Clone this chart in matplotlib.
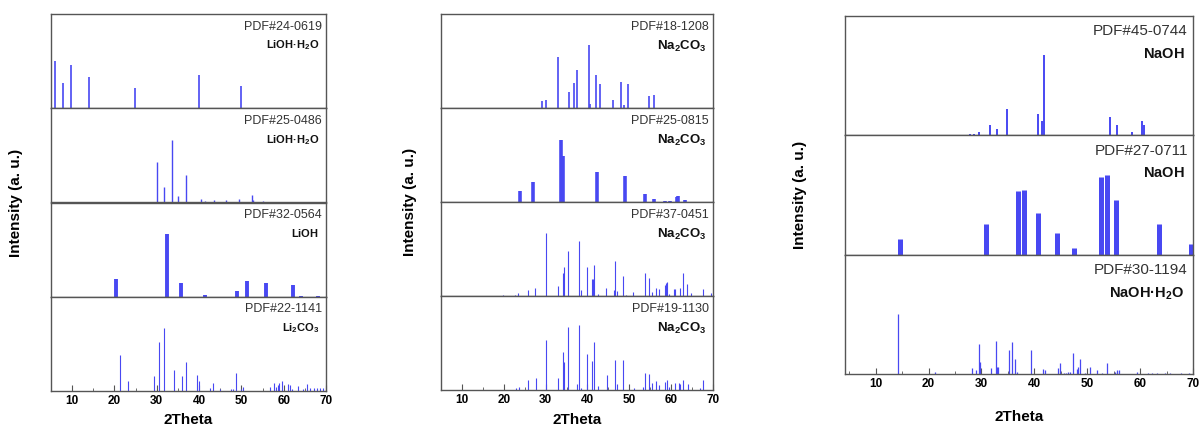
import numpy as np
import matplotlib
matplotlib.use("Agg")
import matplotlib.pyplot as plt

plt.rcParams['font.family'] = ['Liberation Sans', 'DejaVu Sans']
plt.rcParams['mathtext.fontset'] = 'custom'
plt.rcParams['mathtext.rm'] = 'Liberation Sans'
plt.rcParams['mathtext.bf'] = 'Liberation Sans:bold'

BLUE = '#4848f2'

# ---- datos de referencia (2Theta, intensidad relativa) ----
# Panel 1
pdf_24_0619_pos = [5.9, 7.9, 9.8, 13.9, 24.8, 39.9, 49.9]
pdf_24_0619_int = [0.50, 0.27, 0.46, 0.33, 0.21, 0.35, 0.24]

pdf_25_0486_pos = [21.4, 25.6, 30.0, 31.8, 33.6, 34.9, 36.8, 40.5, 41.5, 43.6, 46.3,
                   49.5, 51.2, 52.4, 52.8, 55.2, 57.5, 59.3, 61.9, 63.3, 64.3, 65.4, 68.2]
pdf_25_0486_int = [0.01, 0.01, 0.43, 0.16, 0.66, 0.07, 0.29, 0.04, 0.02, 0.03, 0.03,
                   0.035, 0.01, 0.08, 0.03, 0.015, 0.01, 0.01, 0.01, 0.01, 0.01, 0.01, 0.01]

pdf_32_0564_pos = [20.3, 32.4, 35.7, 41.5, 49.0, 51.3, 55.9, 62.1, 64.1, 68.2]
pdf_32_0564_int = [0.185, 0.67, 0.15, 0.02, 0.065, 0.17, 0.15, 0.12, 0.01, 0.01]

pdf_22_1141_pos = [21.3, 23.3, 29.3, 30.5, 31.6, 34.0, 36.0, 36.8, 39.4, 39.9, 42.5,
                   43.4, 45.0, 47.5, 47.9, 48.7, 50.0, 50.3, 56.8, 57.6, 58.2, 58.6,
                   59.0, 59.7, 61.1, 61.4, 62.0, 63.3, 64.6, 65.4, 66.3, 67.1, 67.8,
                   68.6, 69.4]
pdf_22_1141_int = [0.38, 0.105, 0.155, 0.52, 0.67, 0.22, 0.155, 0.31, 0.17, 0.105, 0.03,
                   0.08, 0.02, 0.02, 0.02, 0.19, 0.02, 0.04, 0.04, 0.09, 0.04, 0.06,
                   0.09, 0.11, 0.07, 0.06, 0.02, 0.05, 0.02, 0.07, 0.03, 0.03, 0.03,
                   0.03, 0.03]

# Panel 2
pdf_18_1208_pos = [29.05, 30.2, 32.9, 35.5, 36.7, 37.5, 40.3, 40.6, 42.0, 43.0, 46.2,
                   48.1, 48.7, 49.7, 54.7, 55.8]
pdf_18_1208_int = [0.07, 0.085, 0.54, 0.17, 0.27, 0.40, 0.67, 0.04, 0.35, 0.26, 0.09,
                   0.28, 0.03, 0.26, 0.125, 0.135]

pdf_25_0815_pos = [23.8, 27.0, 33.7, 34.2, 42.2, 49.0, 53.8, 55.8, 58.6, 59.8, 61.3,
                   61.7, 63.4, 67.4]
pdf_25_0815_int = [0.12, 0.21, 0.66, 0.49, 0.32, 0.28, 0.08, 0.035, 0.015, 0.01, 0.05,
                   0.065, 0.025, 0.005]

pdf_37_0451_pos = [14.7, 19.7, 22.6, 23.4, 25.9, 27.5, 30.0, 33.0, 34.1, 34.4, 35.3,
                   38.0, 38.5, 39.9, 41.0, 41.3, 41.5, 42.6, 44.5, 46.4, 46.6, 47.1,
                   48.4, 49.3, 50.9, 53.75, 54.6, 55.4, 56.4, 57.1, 58.45, 58.8, 59.1,
                   59.5, 60.6, 60.85, 62.0, 62.8, 63.9, 64.85, 67.7, 69.6]
pdf_37_0451_int = [0.005, 0.01, 0.01, 0.03, 0.06, 0.09, 0.67, 0.11, 0.24, 0.31, 0.48,
                   0.59, 0.06, 0.31, 0.18, 0.18, 0.33, 0.02, 0.09, 0.06, 0.37, 0.05,
                   0.21, 0.015, 0.04, 0.24, 0.19, 0.04, 0.08, 0.07, 0.12, 0.14, 0.15,
                   0.02, 0.07, 0.07, 0.08, 0.24, 0.13, 0.03, 0.07, 0.03]

pdf_19_1130_pos = [23.0, 23.6, 25.9, 27.6, 30.0, 33.0, 34.1, 34.4, 35.3, 37.4, 38.0,
                   38.5, 39.9, 41.2, 41.6, 42.6, 44.6, 46.55, 47.1, 48.4, 51.2, 53.35,
                   53.65, 54.6, 55.4, 56.4, 57.1, 58.45, 59.1, 59.5, 60.85, 61.9, 62.2,
                   62.9, 64.0, 67.0, 67.7]
pdf_19_1130_int = [0.02, 0.03, 0.11, 0.13, 0.53, 0.13, 0.40, 0.30, 0.67, 0.06, 0.69,
                   0.02, 0.38, 0.31, 0.51, 0.04, 0.16, 0.32, 0.06, 0.32, 0.02, 0.03,
                   0.18, 0.175, 0.07, 0.10, 0.05, 0.08, 0.11, 0.03, 0.07, 0.07, 0.06,
                   0.11, 0.06, 0.02, 0.11]

# Panel 3
pdf_45_0744_pos = [27.8, 28.6, 29.5, 31.6, 33.0, 34.9, 40.7, 41.4, 41.9, 54.3, 55.6,
                   58.4, 60.3, 60.7]
pdf_45_0744_int = [0.01, 0.01, 0.03, 0.09, 0.056, 0.22, 0.18, 0.12, 0.67, 0.15, 0.087,
                   0.03, 0.12, 0.09]

pdf_27_0711_pos = [14.55, 30.8, 37.0, 38.0, 40.7, 44.2, 47.5, 52.65, 53.7, 55.5, 63.6, 69.6]
pdf_27_0711_int = [0.13, 0.26, 0.53, 0.54, 0.35, 0.185, 0.06, 0.655, 0.67, 0.46, 0.26, 0.09]

pdf_30_1194_pos = [14.2, 21.2, 28.2, 28.9, 29.55, 29.8, 31.8, 32.7, 33.0, 33.2, 35.3,
                   35.7, 36.25, 36.7, 39.3, 41.7, 42.1, 44.5, 44.9, 45.6, 45.97, 46.4,
                   46.7, 47.4, 48.0, 48.3, 48.6, 49.6, 50.5, 51.8, 52.8, 53.7, 55.2,
                   55.6, 56.0, 59.35, 61.4, 62.2, 63.1, 64.7, 65.7, 67.7, 69.2]
pdf_30_1194_int = [0.50, 0.02, 0.05, 0.03, 0.255, 0.10, 0.05, 0.275, 0.06, 0.06, 0.20,
                   0.27, 0.125, 0.02, 0.20, 0.04, 0.035, 0.05, 0.095, 0.01, 0.01, 0.02,
                   0.02, 0.18, 0.04, 0.06, 0.125, 0.01, 0.06, 0.03, 0.01, 0.095, 0.02,
                   0.03, 0.03, 0.02, 0.01, 0.01, 0.005, 0.01, 0.005, 0.005, 0.01]

# (codigo, formula, posiciones, intensidades, ancho de linea)
panel1 = [
    ("PDF#24-0619", r"$\mathbf{LiOH·H_2O}$", pdf_24_0619_pos, pdf_24_0619_int, 1.2),
    ("PDF#25-0486", r"$\mathbf{LiOH·H_2O}$", pdf_25_0486_pos, pdf_25_0486_int, 1.0),
    ("PDF#32-0564", r"$\mathbf{LiOH}$", pdf_32_0564_pos, pdf_32_0564_int, 2.8),
    ("PDF#22-1141", r"$\mathbf{Li_2CO_3}$", pdf_22_1141_pos, pdf_22_1141_int, 0.8),
]
panel2 = [
    ("PDF#18-1208", r"$\mathbf{Na_2CO_3}$", pdf_18_1208_pos, pdf_18_1208_int, 1.2),
    ("PDF#25-0815", r"$\mathbf{Na_2CO_3}$", pdf_25_0815_pos, pdf_25_0815_int, 2.6),
    ("PDF#37-0451", r"$\mathbf{Na_2CO_3}$", pdf_37_0451_pos, pdf_37_0451_int, 0.8),
    ("PDF#19-1130", r"$\mathbf{Na_2CO_3}$", pdf_19_1130_pos, pdf_19_1130_int, 0.8),
]
panel3 = [
    ("PDF#45-0744", r"$\mathbf{NaOH}$", pdf_45_0744_pos, pdf_45_0744_int, 1.4),
    ("PDF#27-0711", r"$\mathbf{NaOH}$", pdf_27_0711_pos, pdf_27_0711_int, 3.6),
    ("PDF#30-1194", r"$\mathbf{NaOH·H_2O}$", pdf_30_1194_pos, pdf_30_1194_int, 0.9),
]

W, H = 1203, 430
fig = plt.figure(figsize=(W / 100, H / 100), dpi=100)


def dibujar_panel(datos, left, right, top, bottom, xmin, fs_pdf, fs_form, ylab_x, xlab_y):
    n = len(datos)
    alto = (bottom - top) / n
    for i, (codigo, formula, pos, inten, lw) in enumerate(datos):
        y_sup = top + i * alto
        ax = fig.add_axes([left / W, 1 - (y_sup + alto) / H, (right - left) / W, alto / H])
        ax.vlines(pos, 0, inten, color=BLUE, linewidth=lw)
        ax.set_xlim(xmin, 70)
        ax.set_ylim(0, 1)
        ax.set_yticks([])
        for s in ax.spines.values():
            s.set_color('#555555')
            s.set_linewidth(1.0)
        ax.text(0.985, 0.93, codigo, transform=ax.transAxes, ha='right', va='top',
                fontsize=fs_pdf, color='#333333')
        ax.text(0.975, 0.74, formula, transform=ax.transAxes, ha='right', va='top',
                fontsize=fs_form, color='#111111')
        ax.set_xticks(np.arange(10, 71, 10))
        ax.set_xticks(np.arange(5, 71, 5), minor=True)
        ax.tick_params(axis='x', which='both', direction='in', color='#555555')
        ax.tick_params(axis='x', which='major', length=4)
        ax.tick_params(axis='x', which='minor', length=2)
        if i < n - 1:
            ax.set_xticklabels([])
            ax.tick_params(axis='x', which='both', length=0)
        else:
            ax.tick_params(axis='x', labelsize=8.5, pad=3)
            for t in ax.get_xticklabels():
                t.set_fontweight('bold')
    fig.text(ylab_x / W, 1 - ((top + bottom) / 2) / H, "Intensity (a. u.)", rotation=90,
             ha='center', va='center', fontsize=11, fontweight='bold')
    fig.text(((left + right) / 2) / W, 1 - xlab_y / H, "2Theta", ha='center', va='center',
             fontsize=11, fontweight='bold')


dibujar_panel(panel1, 51, 326, 14, 391, 5, 9, 8, 16, 420)
dibujar_panel(panel2, 441, 713, 14, 390, 5, 9, 9.5, 410, 420)
dibujar_panel(panel3, 845, 1193, 16, 374, 4.2, 11, 10.5, 800, 417)

plt.savefig("out.png", dpi=100)
